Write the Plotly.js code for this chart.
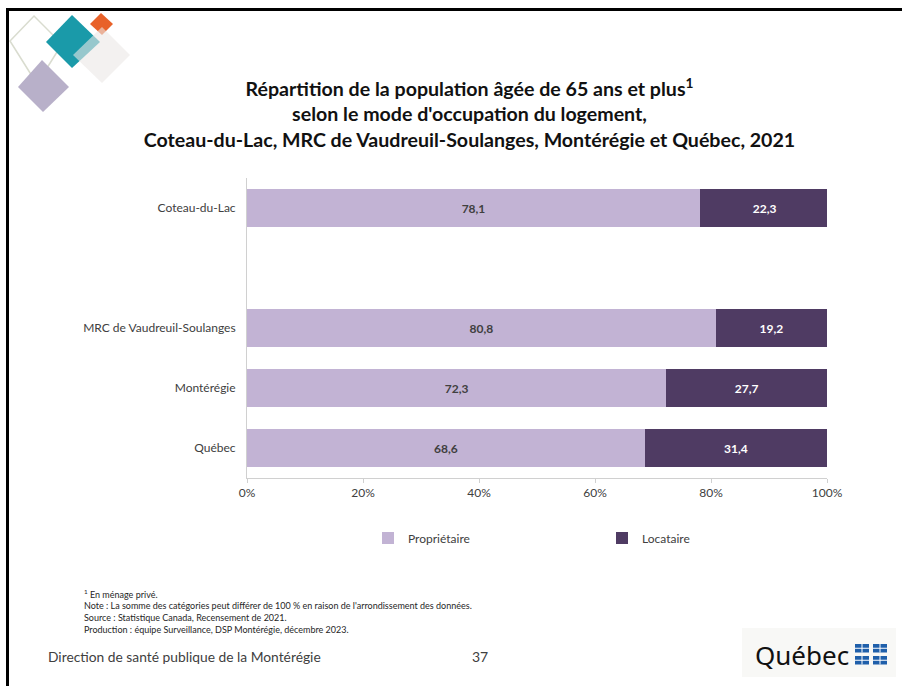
<!DOCTYPE html>
<html>
<head>
<meta charset="utf-8">
<script src="https://cdn.plot.ly/plotly-3.0.1.min.js"></script>
<style>html,body{margin:0;padding:0;background:#fff;}#chart{width:902px;height:686px;}</style>
</head>
<body>
<div id="chart"></div>
<script>
// ---- data ----
var categories = ['Coteau-du-Lac', ' ', 'MRC de Vaudreuil-Soulanges', 'Montérégie', 'Québec'];
var proprietaire = [78.1, null, 80.8, 72.3, 68.6];
var locataire = [22.3, null, 19.2, 27.7, 31.4];
var seriesNames = ['Propriétaire', 'Locataire'];
var xTickVals = [0, 20, 40, 60, 80, 100];
var xTickText = ['0%', '20%', '40%', '60%', '80%', '100%'];

// ---- layout helpers (pixel -> paper) ----
var L = 247, R = 827, T = 178, B = 478, W = 902, Hh = 686;
function px(x) { return (x - L) / (R - L); }
function py(y) { return (B - y) / (B - T); }
function path(pts) {
  return 'M' + pts.map(function (p) { return px(p[0]).toFixed(4) + ',' + py(p[1]).toFixed(4); }).join(' L') + ' Z';
}
var FONT = 'Lato, "Open Sans", sans-serif';

var shapes = [];
// slide frame
shapes.push({type: 'line', xref: 'paper', yref: 'paper', x0: px(6), x1: px(902), y0: py(9.5), y1: py(9.5), line: {color: '#000', width: 3}});
shapes.push({type: 'line', xref: 'paper', yref: 'paper', x0: px(7.5), x1: px(7.5), y0: py(8), y1: py(686), line: {color: '#000', width: 3}});
// logo top-left
shapes.push({type: 'path', xref: 'paper', yref: 'paper', path: path([[10, 41], [34, 16], [62, 44], [37, 84]]), line: {color: '#d9dccf', width: 1.5}, fillcolor: 'rgba(0,0,0,0)'});
shapes.push({type: 'path', xref: 'paper', yref: 'paper', path: path([[18, 87], [42, 60], [69, 87], [43, 112]]), line: {width: 0}, fillcolor: '#b8b0c9'});
shapes.push({type: 'path', xref: 'paper', yref: 'paper', path: path([[46, 42], [72, 15], [100, 42], [72, 68]]), line: {width: 0}, fillcolor: '#1a9aa9'});
shapes.push({type: 'path', xref: 'paper', yref: 'paper', path: path([[90, 24], [101, 13], [113, 24], [102, 35]]), line: {width: 0}, fillcolor: '#e8622a'});
shapes.push({type: 'path', xref: 'paper', yref: 'paper', path: path([[73, 55], [102, 27], [130, 55], [102, 83]]), line: {width: 0}, fillcolor: 'rgba(235,232,230,0.6)'});
// Québec logo background
shapes.push({type: 'rect', xref: 'paper', yref: 'paper', x0: px(742), x1: px(896), y0: py(628), y1: py(677), line: {width: 0}, fillcolor: '#f8f8f6', layer: 'below'});
// flags
[[855, 644], [873, 644], [855, 656], [873, 656]].forEach(function (f) {
  shapes.push({type: 'rect', xref: 'paper', yref: 'paper', x0: px(f[0]), x1: px(f[0] + 14), y0: py(f[1]), y1: py(f[1] + 8.5), line: {width: 0}, fillcolor: '#1f5faa'});
  shapes.push({type: 'line', xref: 'paper', yref: 'paper', x0: px(f[0] + 7), x1: px(f[0] + 7), y0: py(f[1]), y1: py(f[1] + 8.5), line: {color: '#fff', width: 1}});
  shapes.push({type: 'line', xref: 'paper', yref: 'paper', x0: px(f[0]), x1: px(f[0] + 14), y0: py(f[1] + 4.25), y1: py(f[1] + 4.25), line: {color: '#fff', width: 1}});
});

var annotations = [
  {xref: 'paper', yref: 'paper', x: px(82), y: py(586), xanchor: 'left', yanchor: 'top', align: 'left', showarrow: false,
   text: '<sup>1</sup> En ménage privé.<br>Note : La somme des catégories peut différer de 100 % en raison de l\'arrondissement des données.<br>Source : Statistique Canada, Recensement de 2021.<br>Production : équipe Surveillance, DSP Montérégie, décembre 2023.',
   font: {family: FONT, size: 9, color: '#262626'}},
  {xref: 'paper', yref: 'paper', x: px(46), y: py(656), xanchor: 'left', yanchor: 'middle', showarrow: false,
   text: 'Direction de santé publique de la Montérégie', font: {family: FONT, size: 13.8, color: '#404040'}},
  {xref: 'paper', yref: 'paper', x: px(480), y: py(656), xanchor: 'center', yanchor: 'middle', showarrow: false,
   text: '37', font: {family: FONT, size: 14, color: '#404040'}},
  {xref: 'paper', yref: 'paper', x: px(851), y: py(655), xanchor: 'right', yanchor: 'middle', showarrow: false,
   text: 'Québec', font: {family: '"Noto Sans", sans-serif', size: 26, color: '#111'}}
];

var data = [
  {type: 'bar', orientation: 'h', name: seriesNames[0], y: categories, x: proprietaire,
   marker: {color: '#c2b3d4'}, width: 0.62,
   texttemplate: '%{x:.1f}', textposition: 'inside', insidetextanchor: 'middle',
   textfont: {family: FONT, size: 12, color: '#404040', weight: 700}, hoverinfo: 'skip'},
  {type: 'bar', orientation: 'h', name: seriesNames[1], y: categories, x: locataire,
   marker: {color: '#4f3b63'}, width: 0.62,
   texttemplate: '%{x:.1f}', textposition: 'inside', insidetextanchor: 'middle',
   textfont: {family: FONT, size: 12, color: '#ffffff', weight: 700}, hoverinfo: 'skip'}
];

var layout = {
  width: W, height: Hh,
  margin: {l: L, r: W - R, t: T, b: Hh - B, pad: 0},
  paper_bgcolor: '#fff', plot_bgcolor: '#fff',
  separators: ', ',
  barmode: 'stack',
  showlegend: true,
  font: {family: FONT, color: '#404040'},
  title: {
    text: 'Répartition de la population âgée de 65 ans et plus<sup>1</sup><br>selon le mode d\'occupation du logement,<br>Coteau-du-Lac, MRC de Vaudreuil-Soulanges, Montérégie et Québec, 2021',
    font: {family: FONT, size: 19.6, color: '#111', weight: 700},
    xref: 'container', x: 469.5 / W, xanchor: 'center',
    yref: 'container', y: 1 - 96 / Hh, yanchor: 'top'
  },
  xaxis: {
    range: [0, 100], tickvals: xTickVals, ticktext: xTickText,
    showgrid: false, zeroline: false, showline: true, linecolor: '#d0d0d0', linewidth: 1,
    ticks: 'outside', ticklen: 4, tickcolor: '#d0d0d0',
    tickfont: {family: FONT, size: 12, color: '#404040'}, fixedrange: true
  },
  yaxis: {
    type: 'category', categoryorder: 'array', categoryarray: categories,
    range: [4.5, -0.5],
    showgrid: false, zeroline: false, showline: true, linecolor: '#d0d0d0', linewidth: 1,
    ticks: '', ticklabelstandoff: 8,
    tickfont: {family: FONT, size: 12, color: '#404040'}, fixedrange: true
  },
  legend: {
    orientation: 'h', x: px(368), xanchor: 'left',
    y: py(538), yanchor: 'middle',
    entrywidth: 189, entrywidthmode: 'pixels',
    font: {family: FONT, size: 12, color: '#404040'}, traceorder: 'normal'
  },
  shapes: shapes,
  annotations: annotations
};

Plotly.newPlot('chart', data, layout, {displayModeBar: false, staticPlot: true});
</script>
</body>
</html>
